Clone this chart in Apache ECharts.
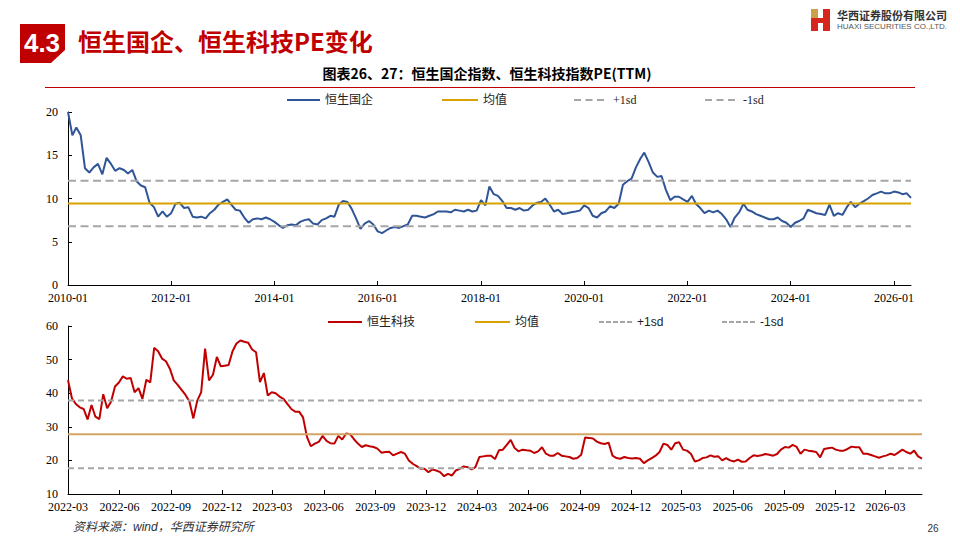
<!DOCTYPE html>
<html>
<head>
<meta charset="utf-8">
<script src="https://cdn.jsdelivr.net/npm/echarts@6/dist/echarts.min.js"></script>
<style>
html,body{margin:0;padding:0;background:#fff;}
#c{width:960px;height:540px;}
</style>
</head>
<body>
<div id="c"></div>
<script>
// ---------------- text ----------------
const sectionNo = '4.3';
const pageTitle = '恒生国企、恒生科技PE变化';
const chartTitle = '图表26、27：恒生国企指数、恒生科技指数PE(TTM)';
const sourceNote = '资料来源：wind，华西证券研究所';
const pageNo = '26';
const companyCn = '华西证券股份有限公司';
const companyEn = 'HUAXI SECURITIES CO.,LTD.';

// ---------------- top chart: 恒生国企 PE (monthly, from 2010-01) ----------------
const hsceiName = '恒生国企';
const hsceiStart = '2010-01';
const hsceiPE = [
  20.0, 17.3, 18.2, 17.3, 13.5, 13.0, 13.6, 14.0, 12.8, 14.7, 14.0, 13.2,
  13.5, 13.3, 12.9, 13.3, 12.0, 11.5, 11.3, 9.5, 9.0, 7.9, 8.5, 7.9,
  8.3, 9.4, 9.5, 8.9, 9.0, 7.9, 7.8, 7.9, 7.7, 8.3, 8.7, 9.3,
  9.6, 9.9, 9.3, 8.7, 8.6, 7.8, 7.2, 7.6, 7.7, 7.6, 7.8, 7.6,
  7.3, 6.9, 6.6, 6.9, 7.0, 6.9, 7.3, 7.5, 7.6, 7.1, 7.0, 7.5,
  7.7, 8.0, 7.9, 9.3, 9.7, 9.6, 8.8, 7.7, 6.5, 7.1, 7.4, 7.0,
  6.2, 6.0, 6.3, 6.6, 6.7, 6.6, 6.8, 7.0, 8.0, 8.0, 7.9, 7.8,
  8.0, 8.2, 8.5, 8.5, 8.5, 8.4, 8.7, 8.6, 8.5, 8.7, 8.5, 8.6,
  9.8, 9.2, 11.4, 10.5, 10.3, 9.7, 8.9, 8.9, 8.7, 8.9, 8.6, 8.7,
  9.2, 9.5, 9.6, 10.0, 9.3, 8.5, 8.7, 8.2, 8.3, 8.4, 8.5, 8.6,
  9.2, 8.9, 8.0, 7.8, 8.3, 8.5, 9.1, 8.9, 9.4, 11.6, 12.0, 12.3,
  13.6, 14.6, 15.3, 14.2, 13.0, 12.5, 12.6, 11.0, 9.8, 10.2, 10.2, 9.9,
  9.6, 10.3, 9.4, 8.9, 8.3, 8.6, 8.4, 8.6, 8.2, 7.6, 6.7, 7.8,
  8.4, 9.4, 8.7, 8.5, 8.2, 8.0, 7.8, 7.6, 7.6, 7.8, 7.4, 7.2,
  6.7, 7.2, 7.4, 7.7, 8.7, 8.5, 8.3, 8.2, 8.1, 9.3, 8.0, 8.3,
  8.1, 9.0, 9.6, 9.0, 9.4, 9.7, 10.0, 10.4, 10.6, 10.8, 10.6, 10.6,
  10.8, 10.7, 10.5, 10.6, 10.07
];
const hsceiMean = 9.43;
const hsceiPlus1sd = 12.06;
const hsceiMinus1sd = 6.80;
const topXTickLabels = ['2010-01','2012-01','2014-01','2016-01','2018-01','2020-01','2022-01','2024-01','2026-01'];

// ---------------- bottom chart: 恒生科技 PE (weekly, from 2022-03-01) ----------------
const hstechName = '恒生科技';
const hstechStart = '2022-03-01';
const hstechPE = [
  43.9, 38.5, 36.8, 35.8, 35.3, 32.2, 36.5, 33.0, 32.3, 39.7,
  35.5, 37.5, 42.0, 43.2, 45.0, 44.3, 44.5, 40.3, 41.5, 38.3,
  44.0, 43.2, 53.5, 52.5, 50.3, 49.5, 47.3, 43.8, 42.5, 41.0,
  39.5, 37.5, 32.5, 37.8, 40.3, 53.3, 43.8, 45.5, 50.8, 48.0,
  48.2, 48.4, 52.5, 54.8, 55.7, 55.3, 55.0, 53.0, 52.2, 43.3,
  46.0, 39.3, 40.3, 40.0, 39.0, 38.3, 36.8, 35.3, 34.5, 34.5,
  32.8, 27.0, 24.2, 25.0, 25.5, 27.3, 25.8, 25.1, 25.0, 27.3,
  26.2, 28.0, 27.8, 26.3, 25.0, 24.0, 24.5, 24.2, 24.0, 23.5,
  22.3, 22.5, 22.6, 21.5, 22.0, 22.5, 22.0, 20.0, 19.0, 18.3,
  17.5, 17.5, 16.5, 17.3, 17.0, 16.5, 15.3, 16.0, 15.5, 17.0,
  17.5, 18.2, 18.0, 17.3, 18.0, 21.0, 21.2, 21.4,
  21.4, 20.4, 23.0, 23.2, 24.6, 26.1, 23.7, 22.7, 23.2, 23.0,
  22.9, 22.2, 22.7, 23.9, 22.0, 21.4, 21.4, 22.2, 21.4, 21.2,
  21.0, 20.5, 20.7, 21.7, 26.8, 26.7, 26.5, 25.6, 25.1, 24.9,
  25.3, 21.4, 20.7, 20.5, 21.0, 20.7, 20.6, 20.7, 20.5, 19.2,
  20.0, 20.7, 21.4, 22.5, 25.0, 24.6, 23.2, 25.1, 25.4, 23.2,
  22.9, 22.0, 19.7, 20.0, 20.7, 20.9, 21.5, 21.1, 21.2, 20.0,
  20.7, 20.0, 19.7, 20.2, 19.6, 19.7, 20.7, 21.5, 21.3, 21.5,
  21.9, 21.7, 21.4, 21.9, 23.2, 24.0, 23.8, 24.6, 24.0, 22.0,
  23.2, 22.9, 22.7, 22.5, 20.9, 23.4, 23.6, 23.8, 23.2, 22.9,
  22.9, 23.4, 24.1, 23.9, 23.9, 22.0, 22.0, 21.6, 21.2, 20.8,
  21.2, 21.5, 22.0, 21.6, 22.4, 23.2, 22.5, 22.0, 22.9, 21.2,
  20.53
];
const hstechMean = 27.75;
const hstechPlus1sd = 37.8;
const hstechMinus1sd = 17.7;
const bottomXTickLabels = ['2022-03','2022-06','2022-09','2022-12','2023-03','2023-06','2023-09','2023-12',
  '2024-03','2024-06','2024-09','2024-12','2025-03','2025-06','2025-09','2025-12','2026-03'];

const meanName = '均值';
const plusName = '+1sd';
const minusName = '-1sd';

// ---------------- helpers ----------------
function ymToTs(s) { const p = s.split('-'); return Date.UTC(+p[0], +p[1] - 1, p[2] ? +p[2] : 1); }
function tsToYm(v) { const d = new Date(v); return d.getUTCFullYear() + '-' + String(d.getUTCMonth() + 1).padStart(2, '0'); }

const topStart = ymToTs(hsceiStart);
const sy = new Date(topStart).getUTCFullYear(), sm = new Date(topStart).getUTCMonth();
const hsceiData = hsceiPE.map((v, i) => [Date.UTC(sy, sm + i, 1), v]);
const topMin = hsceiData[0][0], topMax = hsceiData[hsceiData.length - 1][0];

const botStart = ymToTs(hstechStart);
const WEEK = 7 * 86400000;
const hstechData = hstechPE.map((v, i) => [botStart + i * WEEK, v]);
const botMin = hstechData[0][0], botMax = hstechData[hstechData.length - 1][0];

const topTicks = topXTickLabels.map(ymToTs);
const botTicks = bottomXTickLabels.map(ymToTs);

const lastTop = hsceiData.pop();
hsceiData.push({ value: lastTop, label: { show: true, position: 'bottom', distance: 2, offset: [-2, 0],
  formatter: p => p.value[1].toFixed(2), fontFamily: 'Liberation Serif', fontSize: 12, color: '#222' } });
const lastBot = hstechData.pop();
hstechData.push({ value: lastBot, label: { show: true, position: 'top', distance: 9,
  formatter: p => p.value[1].toFixed(2), fontFamily: 'Liberation Serif', fontSize: 12, color: '#222' } });

const SERIF = 'Liberation Serif, "Noto Sans CJK SC"';
const axisFont = { fontFamily: 'Liberation Serif', fontSize: 12, color: '#000' };

function xAxisCfg(gi, min, max, ticks) {
  return {
    type: 'value', gridIndex: gi, min: min, max: max,
    axisLine: { show: true, lineStyle: { color: '#000', width: 1 } },
    axisTick: { show: true, inside: true, length: 4, customValues: ticks, lineStyle: { color: '#000' } },
    axisLabel: Object.assign({ customValues: ticks, formatter: tsToYm, margin: 7 }, axisFont),
    splitLine: { show: false }
  };
}
function yAxisCfg(gi, min, max, interval) {
  return {
    type: 'value', gridIndex: gi, min: min, max: max, interval: interval,
    axisLine: { show: true, lineStyle: { color: '#000', width: 1 } },
    axisTick: { show: true, inside: true, length: 4, lineStyle: { color: '#000' } },
    axisLabel: Object.assign({ margin: 10 }, axisFont),
    splitLine: { show: false }
  };
}
function flat(xi, yi, name, v, min, max, color, dash) {
  return {
    name: name, type: 'line', xAxisIndex: xi, yAxisIndex: yi, symbol: 'none', silent: true,
    data: [[min, v], [max, v]],
    lineStyle: { color: color, width: 2, type: dash || 'solid' }, itemStyle: { color: color }
  };
}
// legend icons drawn as flat paths (solid or dashed), sized exactly to the item box
const solidIcon = w => 'path://M0,0H' + w + 'V2H0Z';
function dashIcon(w, d, g) {
  let p = '', x = 0;
  while (x < w - 0.01) { const e = Math.min(x + d, w); p += 'M' + x + ',0H' + e + 'V2H' + x + 'Z'; x += d + g; }
  return 'path://' + p;
}
function leg(name, left, top, w, icon, font, pad) {
  return {
    data: [{ name: name, icon: icon }], left: left, top: top, itemWidth: w, itemHeight: 2, itemGap: 0,
    selectedMode: false, padding: 0,
    textStyle: { fontFamily: font, fontSize: 12, color: '#222', padding: pad || 0 }
  };
}

const BLUE = '#2F5597', RED = '#C00000', GOLD = '#D8A300', TAN = '#D4A664', GRAY = '#A6A6A6';
const topDash = [8, 4.5];
const botDash = [6, 4];

const option = {
  backgroundColor: '#fff',
  animation: false,
  grid: [
    { left: 68, right: 49, top: 112, bottom: 255 },
    { left: 68, right: 38, top: 326, bottom: 46 }
  ],
  xAxis: [xAxisCfg(0, topMin, topMax, topTicks), xAxisCfg(1, botMin, botMax, botTicks)],
  yAxis: [yAxisCfg(0, 0, 20, 5), yAxisCfg(1, 10, 60, 10)],
  legend: [
    leg(hsceiName, 287, 94, 33, solidIcon(33), SERIF),
    leg(meanName, 442, 94, 36, solidIcon(36), SERIF),
    leg(plusName, 574, 94, 30, dashIcon(30, 7, 4.5), SERIF, [0, 0, 0, 4]),
    leg(minusName, 705, 94, 30, dashIcon(30, 7, 4.5), SERIF, [0, 0, 0, 3]),
    leg(hstechName, 328, 316, 34, solidIcon(34), SERIF),
    leg(meanName, 475, 316, 35, solidIcon(35), SERIF),
    leg(plusName, 599, 316, 33, dashIcon(33, 5, 2), 'Liberation Sans'),
    leg(minusName, 722, 316, 33, dashIcon(33, 5, 2), 'Liberation Sans')
  ],
  series: [
    { name: hsceiName, type: 'line', xAxisIndex: 0, yAxisIndex: 0, symbol: 'none', showSymbol: false,
      data: hsceiData, lineStyle: { color: BLUE, width: 2 }, itemStyle: { color: BLUE } },
    flat(0, 0, meanName, hsceiMean, topMin, topMax, GOLD),
    flat(0, 0, plusName, hsceiPlus1sd, topMin, topMax, GRAY, topDash),
    flat(0, 0, minusName, hsceiMinus1sd, topMin, topMax, GRAY, topDash),
    { name: hstechName, type: 'line', xAxisIndex: 1, yAxisIndex: 1, symbol: 'none', showSymbol: false,
      data: hstechData, lineStyle: { color: RED, width: 2 }, itemStyle: { color: RED } },
    flat(1, 1, meanName, hstechMean, botMin, botMax, TAN),
    flat(1, 1, plusName, hstechPlus1sd, botMin, botMax, GRAY, botDash),
    flat(1, 1, minusName, hstechMinus1sd, botMin, botMax, GRAY, botDash)
  ],
  graphic: [
    { type: 'polygon', shape: { points: [[20, 24], [65, 24], [65, 50], [51, 63], [20, 63]] }, style: { fill: RED } },
    { type: 'text', x: 42, y: 43, style: { text: sectionNo, fill: '#fff', fontSize: 26, fontWeight: 'bold',
      fontFamily: 'Liberation Sans', align: 'center', verticalAlign: 'middle' } },
    { type: 'text', x: 78, y: 40, style: { text: pageTitle, fill: RED, fontSize: 24, fontWeight: 'bold',
      fontFamily: '"Noto Sans CJK SC"', align: 'left', verticalAlign: 'middle' } },
    { type: 'text', x: 487, y: 73, style: { text: chartTitle, fill: '#000', fontSize: 14, fontWeight: 'bold',
      fontFamily: '"Noto Sans CJK SC"', align: 'center', verticalAlign: 'middle' } },
    { type: 'line', shape: { x1: 45, y1: 87.5, x2: 915, y2: 87.5 }, style: { stroke: RED, lineWidth: 1 } },
    // logo
    { type: 'rect', shape: { x: 811, y: 9, width: 7, height: 13 }, style: { fill: '#C9A24A' } },
    { type: 'rect', shape: { x: 811, y: 22, width: 7, height: 9 }, style: { fill: '#D7261E' } },
    { type: 'rect', shape: { x: 811, y: 18, width: 19, height: 5 }, style: { fill: '#D7261E' } },
    { type: 'rect', shape: { x: 823, y: 9, width: 7, height: 22 }, style: { fill: '#D7261E' } },
    { type: 'text', x: 837, y: 14.5, style: { text: companyCn, fill: '#333', fontSize: 11, fontWeight: 'bold',
      fontFamily: '"Noto Sans CJK SC"', align: 'left', verticalAlign: 'middle' } },
    { type: 'text', x: 837, y: 26, style: { text: companyEn, fill: '#555', fontSize: 8,
      fontFamily: 'Liberation Sans', align: 'left', verticalAlign: 'middle' } },
    // footer
    { type: 'text', x: 73, y: 527, style: { text: sourceNote, fill: '#333', fontSize: 12, fontStyle: 'italic',
      fontFamily: 'Liberation Sans, "Noto Sans CJK SC"', align: 'left', verticalAlign: 'middle' } },
    { type: 'text', x: 933, y: 528, style: { text: pageNo, fill: '#333', fontSize: 10,
      fontFamily: 'Liberation Sans', align: 'center', verticalAlign: 'middle' } }
  ]
};

const chart = echarts.init(document.getElementById('c'), null, { renderer: 'svg' });
chart.setOption(option);
</script>
</body>
</html>
